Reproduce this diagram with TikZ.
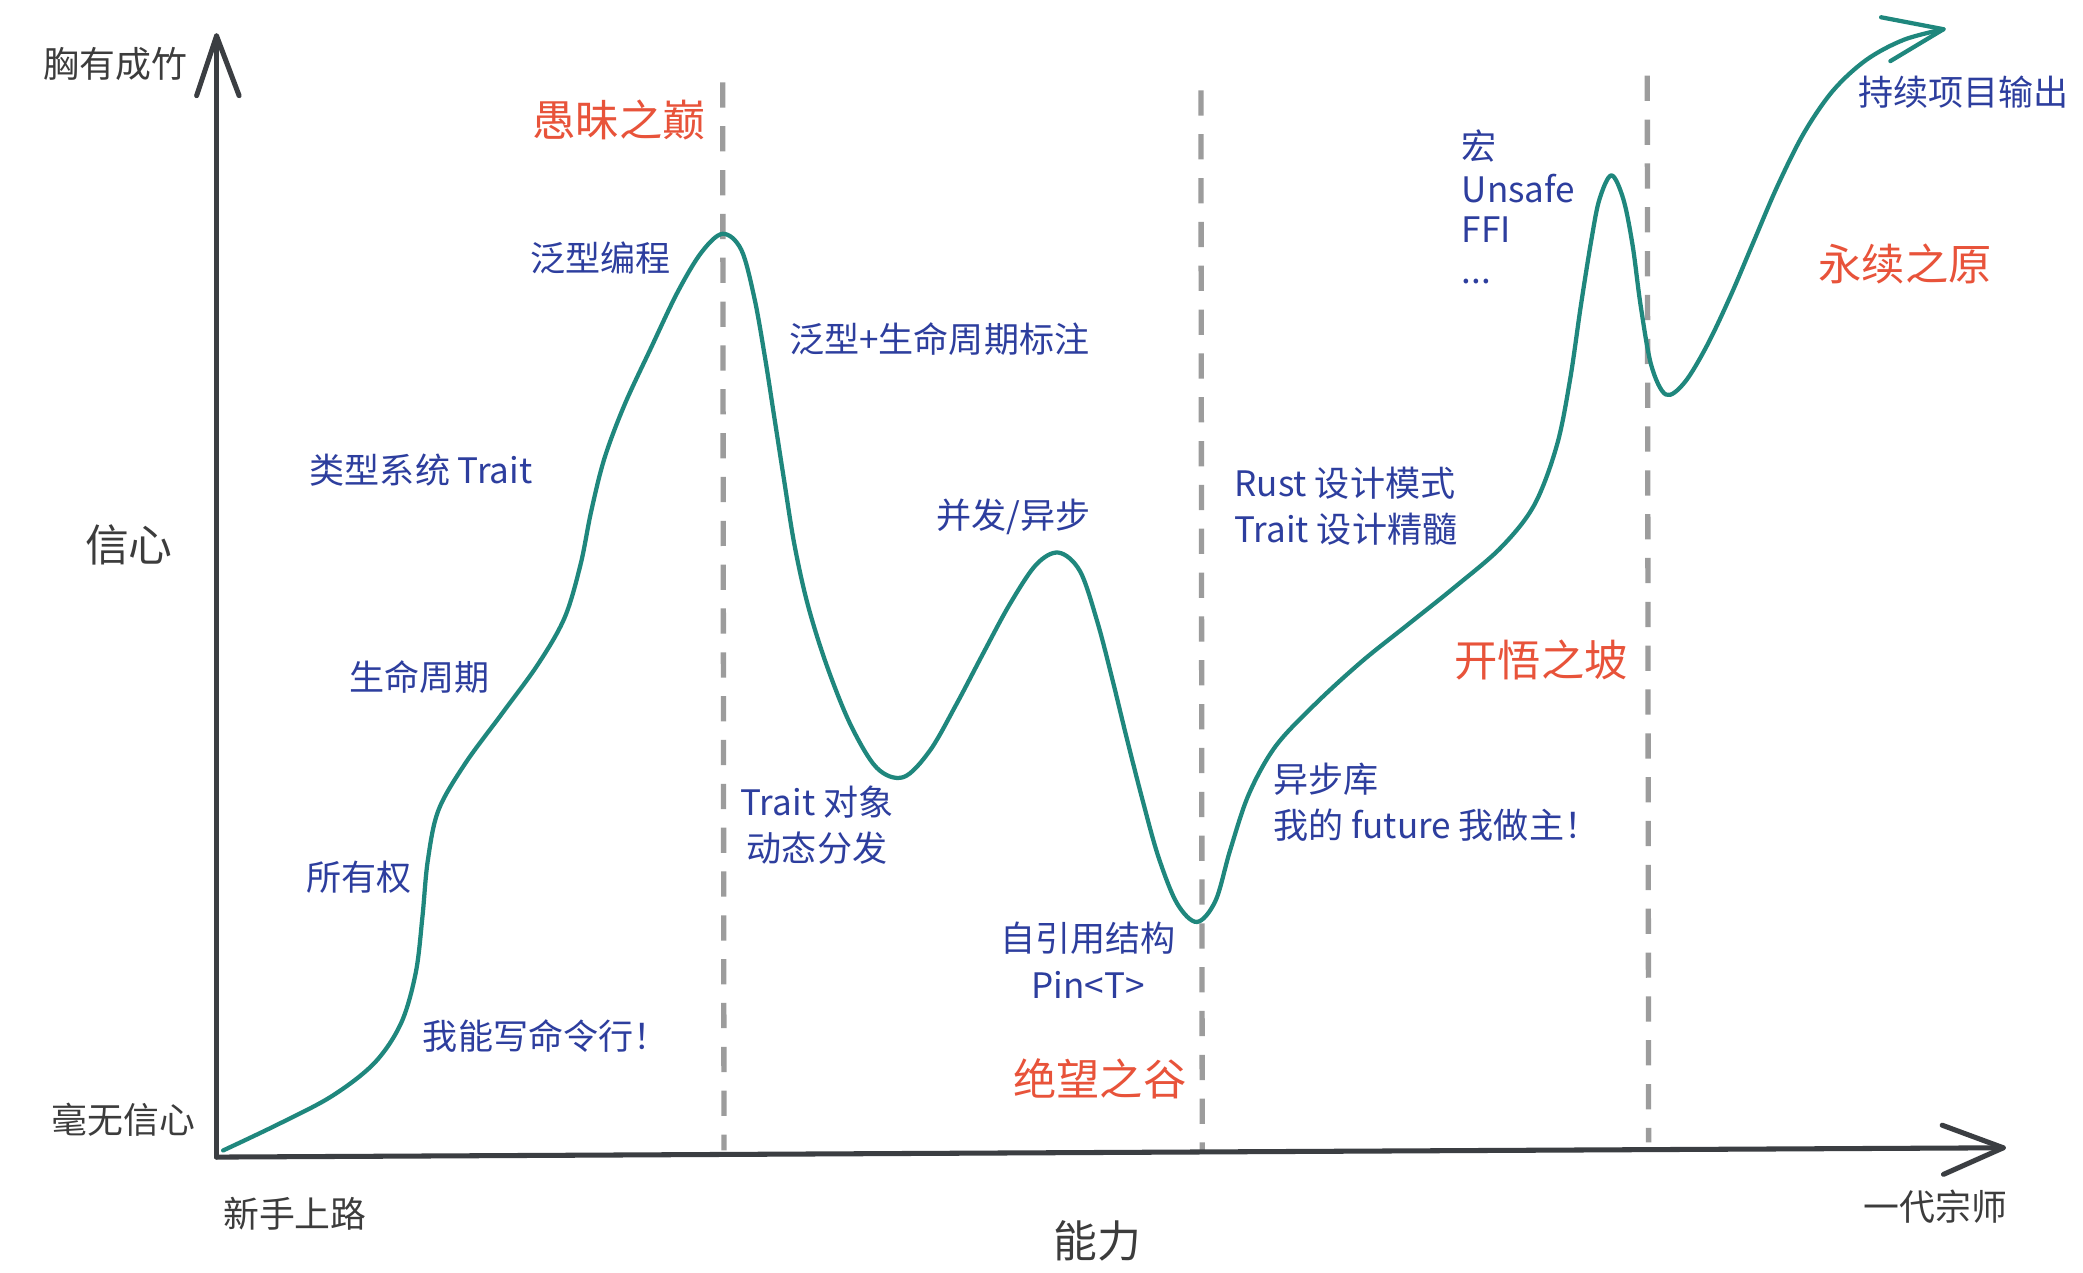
\documentclass[tikz,border=0pt]{standalone}
\usepackage{fontspec}
\newfontfamily\cjk{Noto Sans CJK SC}
\definecolor{axisc}{HTML}{3B3E42}
\definecolor{dashc}{HTML}{9C9C9C}
\definecolor{curvec}{HTML}{1F877D}
\definecolor{bluec}{HTML}{2D3E9E}
\definecolor{redc}{HTML}{E8533A}
\definecolor{grayc}{HTML}{3C3C3C}
\begin{document}
\begin{tikzpicture}[x=0.5pt,y=-0.5pt,
  axisline/.style={draw=axisc,line width=1.9pt,line cap=round,line join=round},
  divline/.style={draw=dashc,line width=2pt,dash pattern=on 9.5pt off 7pt},
  curveline/.style={draw=curvec,line width=1.6pt,line cap=round,line join=round},
  graylbl/.style={inner sep=0pt,text=grayc,font=\cjk\fontsize{13.5}{16}\selectfont},
  biglbl/.style={inner sep=0pt,text=grayc,font=\cjk\fontsize{16.5}{20}\selectfont},
  redlbl/.style={inner sep=0pt,text=redc,font=\cjk\fontsize{16.3}{20}\selectfont},
  bluelbl/.style={inner sep=0pt,text=bluec,font=\cjk\fontsize{13.2}{17.5}\selectfont},
]
\useasboundingbox (0,0) rectangle (1568,958);
\fill[white] (0,0) rectangle (1568,958);

% divider lines
\coordinate (d1t) at (544,62);  \coordinate (d1b) at (545,866);
\coordinate (d2t) at (904,68);  \coordinate (d2b) at (905,866);
\coordinate (d3t) at (1240,57); \coordinate (d3b) at (1241,860);
\draw[divline] (d1t) -- (d1b);
\draw[divline] (d2t) -- (d2b);
\draw[divline] (d3t) -- (d3b);

% axes
\coordinate (O) at (163,871);
\coordinate (ytip) at (163,27);
\coordinate (ya1) at (148,72);
\coordinate (ya2) at (180,72);
\coordinate (xtip) at (1508,864);
\coordinate (xa1) at (1462,847);
\coordinate (xa2) at (1463,884);
\draw[axisline] (O) -- (ytip);
\draw[axisline] (ya1) -- (ytip) -- (ya2);
\draw[axisline] (O) -- (xtip);
\draw[axisline] (xa1) -- (xtip) -- (xa2);

% curve
\draw[curveline] plot[smooth,tension=0.55] coordinates {
 (168,866) (210,846) (250,825) (282,800) (302,770) (313,732) (318,690)
 (322,648) (330,610) (350,575) (378,537) (405,500) (425,465) (437,425)
 (445,385) (455,345) (470,305) (490,262) (510,220) (528,190) (544,176)
 (558,188) (568,225) (576,270) (583,315) (590,360) (598,410) (608,455)
 (622,500) (640,545) (660,578) (680,585) (700,565) (720,530) (740,492)
 (760,455) (780,425) (797,416) (813,430) (826,468) (837,510) (848,555)
 (860,602) (872,645) (886,680) (901,694) (915,678) (926,640) (940,598)
 (960,562) (990,530) (1025,498) (1060,470) (1095,442) (1130,412)
 (1155,380) (1172,335) (1182,285) (1190,230) (1198,180) (1204,150)
 (1213,132) (1222,150) (1229,185) (1235,230) (1243,275) (1254,297)
 (1268,288) (1285,260) (1303,222) (1320,182) (1338,140) (1358,100)
 (1380,68) (1405,45) (1433,30) (1463,22)};
\coordinate (ctip) at (1463,22);
\coordinate (ca1) at (1416,13);
\coordinate (ca2) at (1423,46);
\draw[curveline] (ca1) -- (ctip) -- (ca2);

% axis labels
\node[graylbl] (ytop) at (87,48) {胸有成竹};
\node[biglbl] (ylab) at (97,410) {信心};
\node[graylbl] (ybot) at (93,843) {毫无信心};
\node[graylbl] (xleft) at (222,914) {新手上路};
\node[biglbl] (xlab) at (826,934) {能力};
\node[graylbl] (xright) at (1457,908) {一代宗师};

% region labels
\node[redlbl] (r1) at (466,90) {愚昧之巅};
\node[redlbl] (r2) at (828,812) {绝望之谷};
\node[redlbl] (r3) at (1160,497) {开悟之坡};
\node[redlbl] (r4) at (1434,199) {永续之原};

% topic labels
\node[bluelbl] (t1) at (452,194) {泛型编程};
\node[bluelbl] (t2) at (317,354) {类型系统 Trait};
\node[bluelbl] (t3) at (316,510) {生命周期};
\node[bluelbl] (t4) at (270,660) {所有权};
\node[bluelbl,anchor=west] (t5) at (318,780) {我能写命令行！};
\node[bluelbl] (t6) at (707,255) {泛型+生命周期标注};
\node[bluelbl,align=center] (t7) at (615,621) {Trait 对象\\动态分发};
\node[bluelbl] (t8) at (763,389) {并发/异步};
\node[bluelbl,align=center] (t9) at (819,723) {自引用结构\\Pin<T>};
\node[bluelbl,align=left,anchor=west] (t10) at (929,381) {Rust 设计模式\\Trait 设计精髓};
\node[bluelbl,align=left,anchor=west] (t11) at (958,604) {异步库\\我的 future 我做主！};
\node[bluelbl,anchor=west] (t12a) at (1100,110) {宏};
\node[bluelbl,anchor=west] (t12b) at (1100,142) {Unsafe};
\node[bluelbl,anchor=west] (t12c) at (1100,173) {FFI};
\node[bluelbl,anchor=west] (t12d) at (1100,212) {...};
\node[bluelbl] (t13) at (1478,69) {持续项目输出};
\end{tikzpicture}
\end{document}
